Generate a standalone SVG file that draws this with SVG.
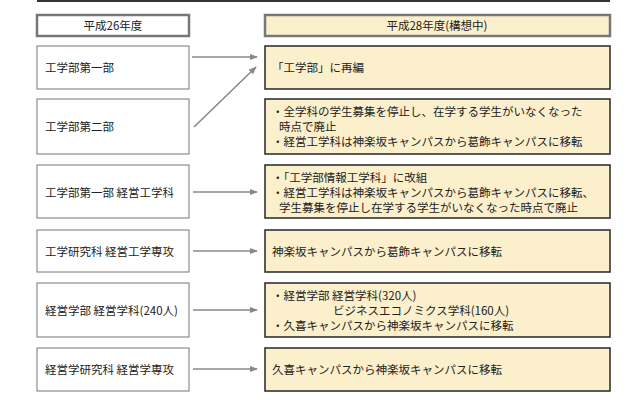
<svg xmlns="http://www.w3.org/2000/svg" width="640" height="400" viewBox="0 0 640 400">
<defs>
<style>
text{font-family:"Noto Sans CJK JP","Noto Sans CJK SC",sans-serif;font-size:11.5px;fill:#222}
.l{fill:#fff;stroke:#777;stroke-width:1}
.r{fill:#fcefcb;stroke:#333;stroke-width:1.6}
.hl{fill:#fff;stroke:#777;stroke-width:2.5}
.hr{fill:#fcefcb;stroke:#777;stroke-width:2.5}
.c{stroke:#888;stroke-width:1.6;fill:none;marker-end:url(#a)}
</style>
<marker id="a" viewBox="0 0 10 10" refX="9" refY="5" markerWidth="5" markerHeight="5" orient="auto"><path d="M0,1 L10,5 L0,9 z" fill="#888"/></marker>
</defs>
<rect width="640" height="400" fill="#fff"/>
<line x1="37" y1="1" x2="610" y2="1" stroke="#333" stroke-width="2"/>
<g id="h1"><rect class="hl" x="37" y="15" width="152" height="21"/><text x="113" y="30" text-anchor="middle">平成26年度</text></g>
<g id="h2"><rect class="hr" x="265" y="15" width="345" height="21"/><text x="437" y="30" text-anchor="middle">平成28年度(構想中)</text></g>
<g id="l1"><rect class="l" x="37" y="46" width="152" height="43"/><text x="45" y="72">工学部第一部</text></g>
<g id="l2"><rect class="l" x="37" y="99" width="152" height="55"/><text x="45" y="131">工学部第二部</text></g>
<g id="l3"><rect class="l" x="37" y="165" width="152" height="53"/><text x="45" y="197">工学部第一部 経営工学科</text></g>
<g id="l4"><rect class="l" x="37" y="230" width="152" height="42"/><text x="45" y="256">工学研究科 経営工学専攻</text></g>
<g id="l5"><rect class="l" x="37" y="283" width="152" height="54"/><text x="45" y="315">経営学部 経営学科(240人)</text></g>
<g id="l6"><rect class="l" x="37" y="348" width="152" height="43"/><text x="45" y="374">経営学研究科 経営学専攻</text></g>
<g id="r1"><rect class="r" x="265" y="46" width="345" height="43"/><text x="272" y="72">「工学部」に再編</text></g>
<g id="r2"><rect class="r" x="265" y="99" width="345" height="55"/><text x="272" y="116">・全学科の学生募集を停止し、在学する学生がいなくなった</text><text x="279" y="131">時点で廃止</text><text x="272" y="146">・経営工学科は神楽坂キャンパスから葛飾キャンパスに移転</text></g>
<g id="r3"><rect class="r" x="265" y="165" width="345" height="53"/><text x="272" y="182">・「工学部情報工学科」に改組</text><text x="272" y="197">・経営工学科は神楽坂キャンパスから葛飾キャンパスに移転、</text><text x="279" y="212">学生募集を停止し在学する学生がいなくなった時点で廃止</text></g>
<g id="r4"><rect class="r" x="265" y="230" width="345" height="42"/><text x="272" y="256">神楽坂キャンパスから葛飾キャンパスに移転</text></g>
<g id="r5"><rect class="r" x="265" y="283" width="345" height="54"/><text x="272" y="300">・経営学部 経営学科(320人)</text><text x="333" y="315">ビジネスエコノミクス学科(160人)</text><text x="272" y="330">・久喜キャンパスから神楽坂キャンパスに移転</text></g>
<g id="r6"><rect class="r" x="265" y="348" width="345" height="43"/><text x="272" y="374">久喜キャンパスから神楽坂キャンパスに移転</text></g>
<g id="connectors">
<line class="c" x1="192" y1="57" x2="257" y2="57"/>
<line class="c" x1="194" y1="127" x2="256" y2="67"/>
<line class="c" x1="193" y1="192" x2="257" y2="192"/>
<line class="c" x1="193" y1="251" x2="257" y2="251"/>
<line class="c" x1="193" y1="310" x2="257" y2="310"/>
<line class="c" x1="193" y1="369" x2="257" y2="369"/>
</g>
</svg>
